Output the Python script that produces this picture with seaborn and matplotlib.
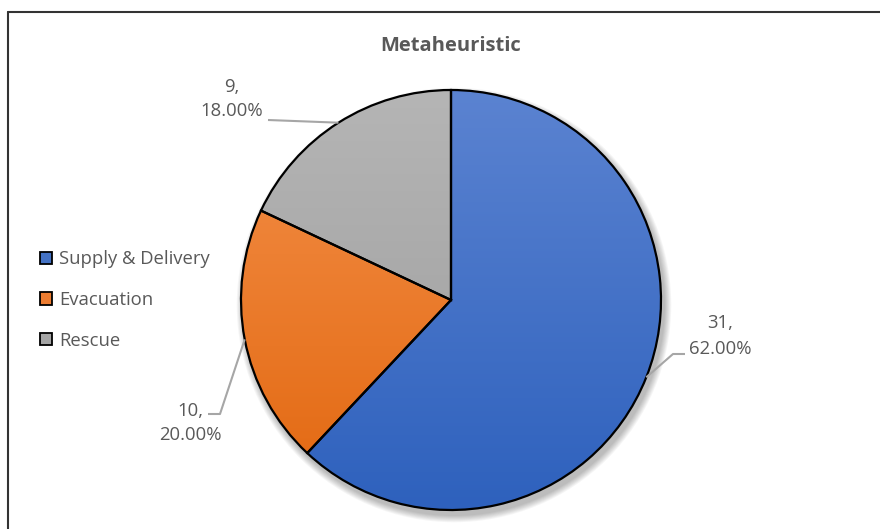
import numpy as np
import matplotlib
matplotlib.use("Agg")
import matplotlib.pyplot as plt
import seaborn as sns
from matplotlib.colors import LinearSegmentedColormap
from matplotlib.lines import Line2D

# ---------------------------------------------------------
# Data
# ---------------------------------------------------------
categories = ["Supply & Delivery", "Evacuation", "Rescue"]
counts = [31, 10, 9]
percents = [62.00, 20.00, 18.00]

# gradient colours per slice (lighter top, darker bottom)
colors_light = ["#5B83D1", "#F4904A", "#B5B5B5"]
colors_dark = ["#2E61BD", "#E2670F", "#9C9C9C"]
colors_flat = ["#4472C4", "#ED7D31", "#A5A5A5"]

sns.set_theme(style="white")
plt.rcParams["font.family"] = ["Open Sans", "DejaVu Sans"]

W, H = 880, 529
fig = plt.figure(figsize=(W / 100, H / 100), dpi=100)
ax = fig.add_axes([0, 0, 1, 1])

# pixel-like coordinates (y up)
cx, cy, r = 451, H - 300, 210

wedges, _ = ax.pie(
    counts,
    colors=colors_flat,
    startangle=90,
    counterclock=False,
    center=(cx, cy),
    radius=r,
    wedgeprops=dict(edgecolor="black", linewidth=1.6, zorder=3),
)

# gradient fill clipped to each wedge
for w, c1, c2 in zip(wedges, colors_light, colors_dark):
    cmap = LinearSegmentedColormap.from_list("g", [c2, c1])
    grad = np.linspace(0, 1, 256).reshape(-1, 1)
    im = ax.imshow(grad, cmap=cmap, origin="lower", aspect="auto",
                   extent=(cx - r, cx + r, cy - r, cy + r), zorder=2)
    im.set_clip_path(w)
    w.set_facecolor("none")

# soft shadow
for i in range(8):
    sh = plt.Circle((cx + 3, cy - 5), r + 1 + i * 0.9, color="black",
                    alpha=0.035, zorder=1, lw=0)
    ax.add_patch(sh)

ax.set_xlim(0, W)
ax.set_ylim(0, H)
ax.set_aspect("equal")
ax.axis("off")

# ---------------------------------------------------------
# Data labels with leader lines
# ---------------------------------------------------------
text_color = "#595959"
line_color = "#A6A6A6"
# (text centre, leader path after the wedge point), image px coords
label_layout = [
    ((720, 336), [(673, 354), (685, 354)]),
    ((190, 423), [(220, 414), (208, 414)]),
    ((232, 99), [(268, 120)]),
]

for w, n, p, (tpos, path) in zip(wedges, counts, percents, label_layout):
    mid = np.deg2rad((w.theta1 + w.theta2) / 2)
    ex, ey = cx + r * np.cos(mid), cy + r * np.sin(mid)
    xs = [ex] + [q[0] for q in path]
    ys = [ey] + [H - q[1] for q in path]
    ax.plot(xs, ys, color=line_color, lw=1.5, zorder=4,
            solid_capstyle="butt")
    ax.text(tpos[0], H - tpos[1], f"{n},\n{p:.2f}%", ha="center",
            va="center", multialignment="center", fontsize=13.3,
            color=text_color, linespacing=1.5)

# ---------------------------------------------------------
# Legend, title, frame
# ---------------------------------------------------------
handles = [plt.Rectangle((0, 0), 1, 1, facecolor=c, edgecolor="black",
                         lw=1.3) for c in colors_flat]
leg = ax.legend(handles, categories, loc="center left",
                bbox_to_anchor=(33 / W, 1 - 300 / H), frameon=False,
                fontsize=13.3, handlelength=0.65, handleheight=0.65,
                handletextpad=0.35, labelspacing=1.22, borderaxespad=0)
for t in leg.get_texts():
    t.set_color(text_color)

fig.text(451 / W, 1 - 46 / H, "Metaheuristic", ha="center", va="center",
         fontsize=14.5, fontweight="bold", color=text_color)

fig.add_artist(Line2D([8 / W, 8 / W], [0, 1 - 12 / H], color="#333333",
                      lw=1.5, transform=fig.transFigure))
fig.add_artist(Line2D([8 / W, 1], [1 - 12 / H, 1 - 12 / H],
                      color="#333333", lw=1.5, transform=fig.transFigure))

fig.savefig("out.png", dpi=100)
